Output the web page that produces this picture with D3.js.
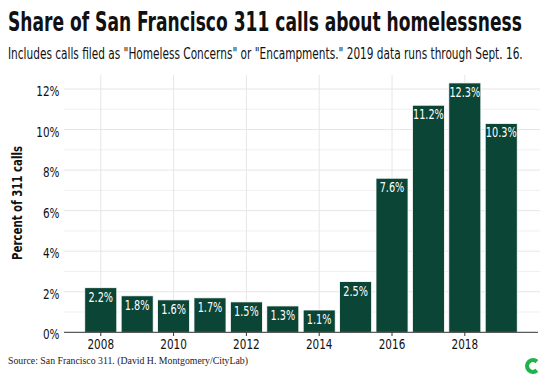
<!DOCTYPE html>
<html><head><meta charset="utf-8">
<script src="https://cdn.jsdelivr.net/npm/d3@7"></script>
<style>
html,body{margin:0;padding:0;background:#fff;}
svg{display:block;}
</style></head>
<body>
<svg id="chart" width="548" height="378"></svg>
<script>
const years = [2008,2009,2010,2011,2012,2013,2014,2015,2016,2017,2018,2019];
const values = [2.2,1.8,1.6,1.7,1.5,1.3,1.1,2.5,7.6,11.2,12.3,10.3];
const labels = ["2.2%","1.8%","1.6%","1.7%","1.5%","1.3%","1.1%","2.5%","7.6%","11.2%","12.3%","10.3%"];
const yTicks = [0,2,4,6,8,10,12];
const yMinor = [1,3,5,7,9,11];
const xTicks = [2008,2010,2012,2014,2016,2018];
const title = "Share of San Francisco 311 calls about homelessness";
const subtitle = "Includes calls filed as \"Homeless Concerns\" or \"Encampments.\" 2019 data runs through Sept. 16.";
const source = "Source: San Francisco 311. (David H. Montgomery/CityLab)";
const yTitle = "Percent of 311 calls";

const svg = d3.select("#chart");
const fontC = '"DejaVu Sans Condensed","DejaVu Sans",sans-serif';

function fit(sel, w){ sel.attr("textLength", w).attr("lengthAdjust","spacingAndGlyphs"); }
function squeeze(sel, k){
  sel.each(function(){ const L = this.getComputedTextLength(); d3.select(this).attr("textLength", L*k).attr("lengthAdjust","spacingAndGlyphs"); });
}
// horizontally scale a text (placed at 0,0) so its width becomes w, positioned at (tx,ty)
function scaleTo(sel, tx, ty, w){
  const L = sel.node().getComputedTextLength();
  sel.attr("transform", `translate(${tx},${ty}) scale(${w/L},1)`);
}

const x = d3.scaleBand().domain(years).range([64,538]).paddingInner(0.12).paddingOuter(0.57);
const y = d3.scaleLinear().domain([0,12]).range([332.3, 89]);
const cx = d => x(d) + x.bandwidth()/2;

// gridlines
const g = svg.append("g");
g.selectAll(".hmin").data(yMinor).join("line")
  .attr("x1",64).attr("x2",540).attr("y1",d=>y(d)).attr("y2",d=>y(d))
  .attr("stroke","#f0f0f0").attr("stroke-width",1);
g.selectAll(".hmaj").data(yTicks.slice(1)).join("line")
  .attr("x1",64).attr("x2",540).attr("y1",d=>y(d)).attr("y2",d=>y(d))
  .attr("stroke","#e6e6e6").attr("stroke-width",1);
g.selectAll(".v").data(xTicks).join("line")
  .attr("x1",cx).attr("x2",cx)
  .attr("y1",75).attr("y2",332)
  .attr("stroke","#e6e6e6").attr("stroke-width",1);

// bars
svg.selectAll(".bar").data(years).join("rect")
  .attr("x",(d)=>x(d)).attr("width",x.bandwidth())
  .attr("y",(d,i)=>y(values[i])).attr("height",(d,i)=>y(0)-y(values[i]))
  .attr("fill","#0b4536").attr("stroke","#ffffff").attr("stroke-width",0.8);

// bar labels
svg.selectAll(".bl").data(years).join("text")
  .attr("x",cx).attr("y",(d,i)=>y(values[i])+14)
  .attr("text-anchor","middle").attr("fill","#ffffff")
  .style("font-family",fontC).style("font-size","13.5px")
  .text((d,i)=>labels[i]).call(squeeze,0.8);

// x axis line
svg.append("line").attr("x1",64).attr("x2",538).attr("y1",332.3).attr("y2",332.3)
  .attr("stroke","#333").attr("stroke-width",1);
svg.selectAll(".xt").data(xTicks).join("line")
  .attr("x1",cx).attr("x2",cx)
  .attr("y1",332.3).attr("y2",336).attr("stroke","#333");
svg.selectAll(".xl").data(xTicks).join("text")
  .attr("x",cx).attr("y",348.5)
  .attr("text-anchor","middle").attr("fill","#111")
  .style("font-family",fontC).style("font-size","14.5px")
  .text(d=>d).call(squeeze,0.8);

// y labels
svg.selectAll(".yl").data(yTicks).join("text")
  .attr("x",59.5).attr("y",d=>y(d)+7)
  .attr("text-anchor","end").attr("fill","#111")
  .style("font-family",fontC).style("font-size","14.5px")
  .text(d=>d+"%").call(squeeze,0.8);

// y title
svg.append("text").attr("transform","translate(21.5,203) rotate(-90)")
  .attr("text-anchor","middle").attr("fill","#111")
  .style("font-family",fontC).style("font-size","14.5px").style("font-weight","bold")
  .text(yTitle).call(fit,114);

// title
svg.append("text").attr("x",0).attr("y",0).attr("fill","#111")
  .style("font-family",fontC).style("font-size","26px").style("font-weight","bold")
  .text(title).call(scaleTo,8,31,514);
svg.append("text").attr("x",0).attr("y",0).attr("fill","#111")
  .style("font-family",fontC).style("font-size","15.5px")
  .text(subtitle).call(scaleTo,8,59,515);

// source
svg.append("text").attr("x",8).attr("y",363.5).attr("fill","#222")
  .style("font-family",'"Liberation Serif","DejaVu Serif",serif').style("font-size","11px")
  .text(source).call(fit,240);

// logo
const arc = d3.arc().innerRadius(3.8).outerRadius(8).startAngle(Math.PI/2+0.85).endAngle(Math.PI/2+Math.PI*2-0.85);
svg.append("path").attr("d",arc()).attr("transform","translate(533,366)").attr("fill","#20b24b");
</script>
</body></html>
